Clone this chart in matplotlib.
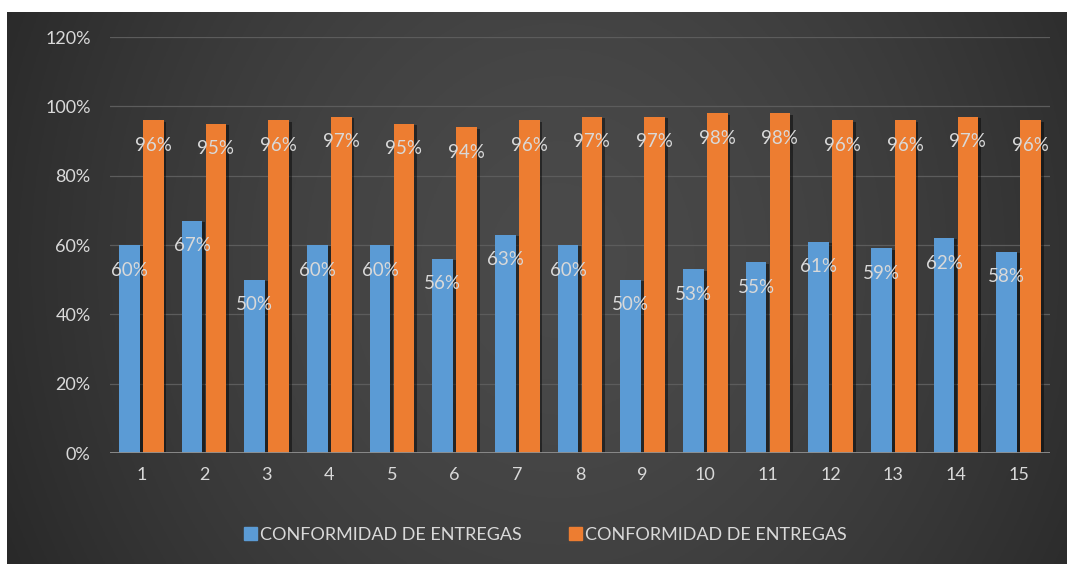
import matplotlib
matplotlib.use("Agg")
import matplotlib.pyplot as plt
import matplotlib.patheffects as pe
from matplotlib.patches import Patch
import numpy as np

categories = [str(i) for i in range(1, 16)]
conformidad_a = [0.60, 0.67, 0.50, 0.60, 0.60, 0.56, 0.63, 0.60, 0.50, 0.53, 0.55, 0.61, 0.59, 0.62, 0.58]
conformidad_b = [0.96, 0.95, 0.96, 0.97, 0.95, 0.94, 0.96, 0.97, 0.97, 0.98, 0.98, 0.96, 0.96, 0.97, 0.96]
series_name = "CONFORMIDAD DE ENTREGAS"
y_ticks = [0, 0.2, 0.4, 0.6, 0.8, 1.0, 1.2]

plt.rcParams["font.family"] = ["Lato", "DejaVu Sans"]
text_color = "#d9d9d9"
blue = "#5b9bd5"
orange = "#ed7d31"

fig = plt.figure(figsize=(10.67, 5.67), dpi=100, facecolor="white")

# dark panel with a soft vignette behind the chart
bg = fig.add_axes([7 / 1067, 3 / 567, 1060 / 1067, 552 / 567])
bg.set_axis_off()
gx, gy = np.meshgrid(np.linspace(0, 1, 400), np.linspace(0, 1, 200))
d = np.sqrt(((gx - 0.52) / 0.6) ** 2 + ((gy - 0.55) / 1.3) ** 2)
d = np.clip(d, 0, 1)
light, dark = np.array([0x4a, 0x4a, 0x4a]) / 255, np.array([0x27, 0x27, 0x27]) / 255
img = light[None, None, :] * (1 - d[..., None] ** 1.6) + dark[None, None, :] * (d[..., None] ** 1.6)
bg.imshow(img, aspect="auto", extent=(0, 1, 0, 1), origin="lower")
bg.set_xlim(0, 1)
bg.set_ylim(0, 1)

ax = fig.add_axes([110 / 1067, 114 / 567, 940 / 1067, 416 / 567])
ax.set_facecolor("none")

x = np.arange(len(categories))
w = 0.33
off = 0.19
shadow = [pe.SimplePatchShadow(offset=(2, -1), shadow_rgbFace="black", alpha=0.45), pe.Normal()]
bars_a = ax.bar(x - off, conformidad_a, w, color=blue, zorder=3, path_effects=shadow)
bars_b = ax.bar(x + off, conformidad_b, w, color=orange, zorder=3, path_effects=shadow)

for bars, vals in ((bars_a, conformidad_a), (bars_b, conformidad_b)):
    for b, v in zip(bars, vals):
        ax.annotate(f"{v:.0%}", xy=(b.get_x() + b.get_width() / 2, v), xytext=(0, -18),
                    textcoords="offset points", ha="center", va="center",
                    fontsize=13.5, color=text_color, zorder=5)

ax.set_xlim(-0.5, len(categories) - 0.5)
ax.set_ylim(0, 1.2)
ax.set_yticks(y_ticks)
ax.set_yticklabels([f"{t:.0%}" for t in y_ticks])
ax.set_xticks(x)
ax.set_xticklabels(categories)
ax.tick_params(axis="both", length=0, labelsize=13, labelcolor=text_color)
ax.tick_params(axis="y", pad=14)
ax.tick_params(axis="x", pad=10)
for t in y_ticks[1:]:
    ax.axhline(t, color="#5c5c5c", lw=0.9, zorder=1)
ax.axhline(0, color="#8f8f8f", lw=1.3, zorder=4)
for s in ax.spines.values():
    s.set_visible(False)

handles = [Patch(color=blue), Patch(color=orange)]
fig.legend(handles, [series_name, series_name], loc="center", bbox_to_anchor=(0.511, 0.0564),
           ncol=2, frameon=False, fontsize=13, labelcolor=text_color,
           handlelength=0.75, handleheight=0.75, handletextpad=0.15, columnspacing=2.6)

fig.savefig("out.png", dpi=100, facecolor="white")
